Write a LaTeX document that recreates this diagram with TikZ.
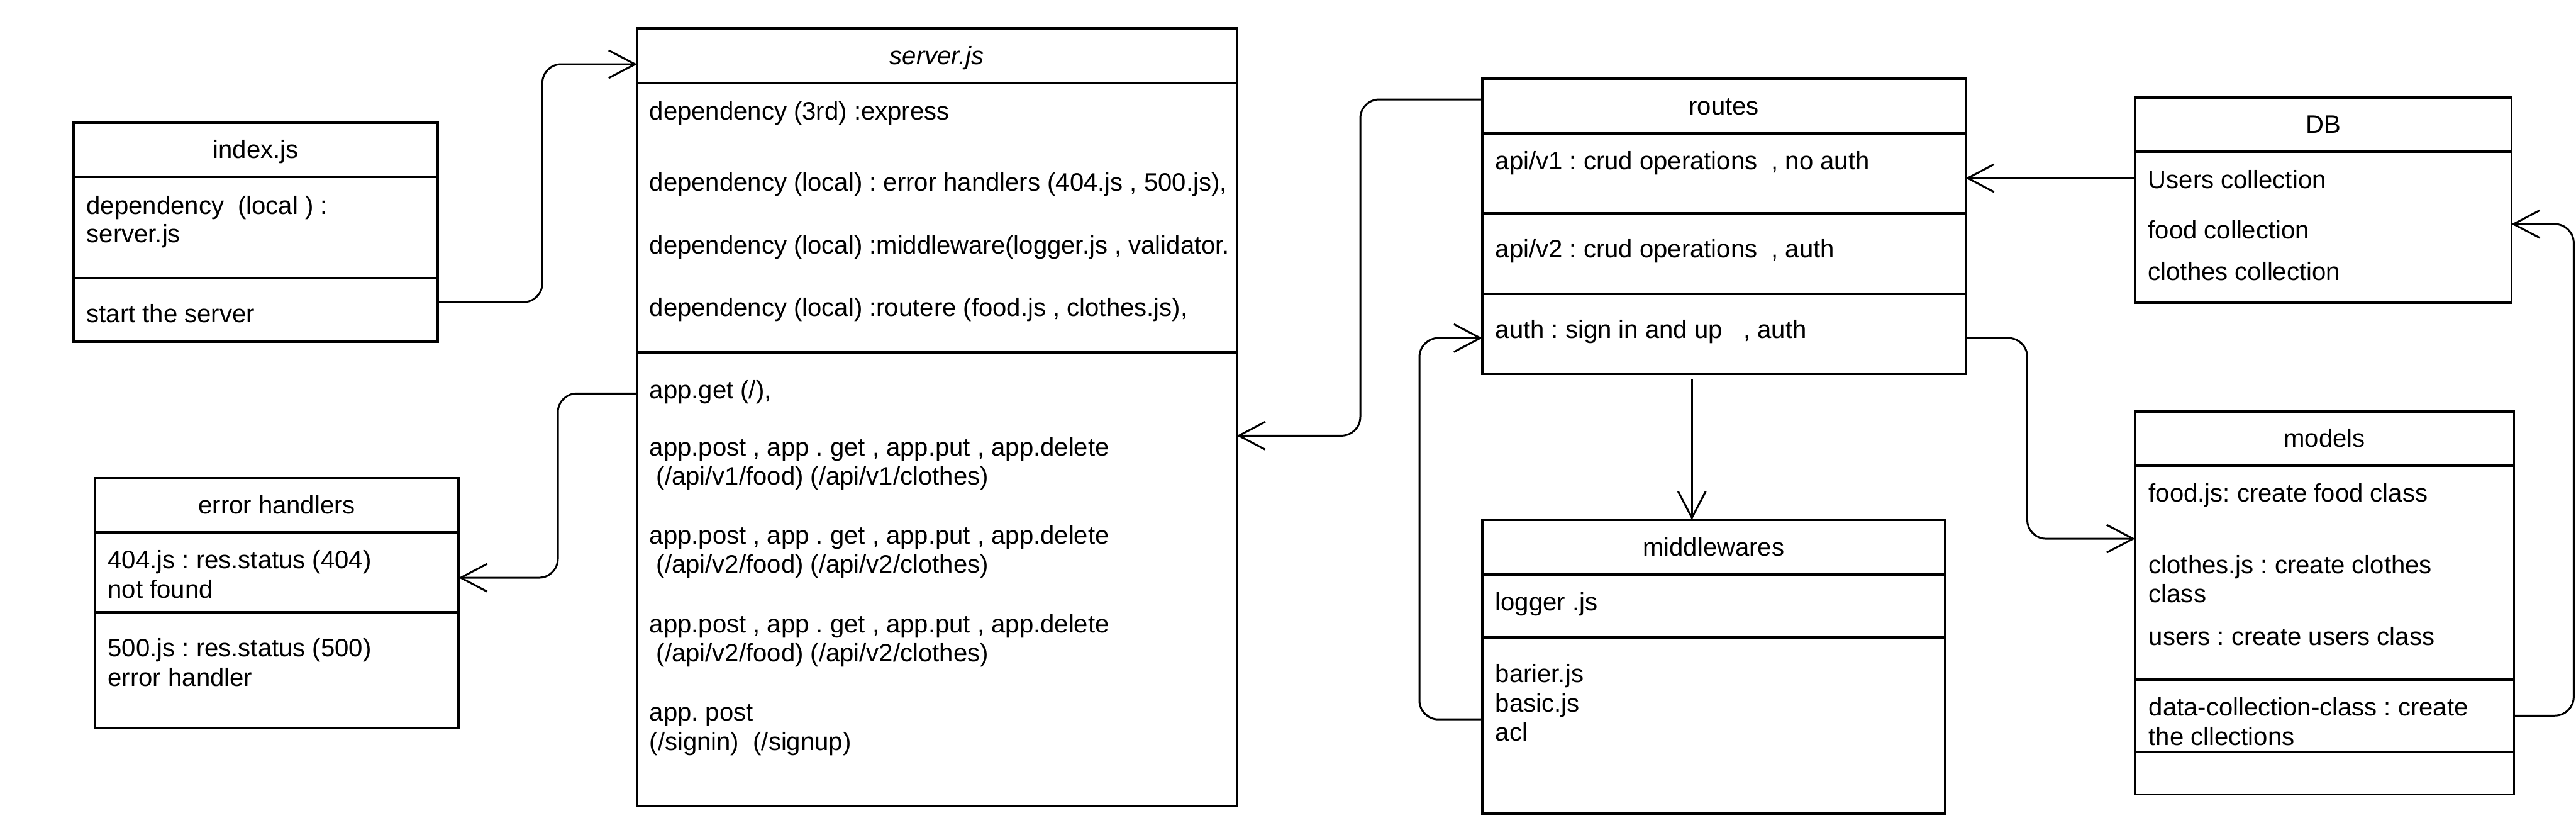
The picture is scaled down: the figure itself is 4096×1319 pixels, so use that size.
\documentclass[tikz,border=0pt]{standalone}
\usepackage{fontspec}
\setmainfont{Liberation Sans}
\usetikzlibrary{arrows.meta,positioning}
\frenchspacing
\begin{document}
\begin{tikzpicture}
  [x=0.01cm,y=-0.01cm,
   font=\fontsize{11.4pt}{13.1pt}\selectfont,
   part/.style={rectangle,draw=black,line width=1.05pt,anchor=north west,
                inner sep=0,outer sep=0},
   head/.style={part,text height=0.9em,text depth=0.12em},
   item/.style={anchor=base west,inner sep=0},
   link/.style={line width=0.85pt,rounded corners=0.3cm},
   >={Straight Barb[length=0.42cm,width=0.44cm]}]
  \useasboundingbox (0,0) rectangle (4096,1319);
  % index.js
  \node[head,minimum width=5.79cm,minimum height=0.86cm] (indexHead) at (117,195) {index.js};
  \node[part,minimum width=5.79cm,minimum height=1.61cm] (indexBody) at (indexHead.south west) {};
  \node[part,minimum width=5.79cm,minimum height=1.01cm] (indexOps) at (indexBody.south west) {};
  \node[item] (idxDep) at (137,341) {dependency\ \ (local ) :};
  \node[item] (idxSrv) at (137,386) {server.js};
  \node[item] (idxStart) at (137,513) {start the server};
  % server.js
  \node[head,minimum width=9.53cm,minimum height=0.87cm] (serverHead) at (1013,45) {\itshape server.js};
  \node[part,minimum width=9.53cm,minimum height=4.28cm] (serverBody) at (serverHead.south west) {};
  \node[part,minimum width=9.53cm,minimum height=7.20cm] (serverOps) at (serverBody.south west) {};
  \node[item] (srvDep1) at (1032,191) {dependency (3rd) :express};
  \node[item] (srvDep2) at (1032,304) {dependency (local) : error handlers (404.js , 500.js),};
  \node[item] (srvDep3) at (1032,404) {dependency (local) :middleware(logger.js , validator.};
  \node[item] (srvDep4) at (1032,503) {dependency (local) :routere (food.js , clothes.js),};
  \node[item] (srvGet) at (1032,634) {app.get (/),};
  \node[item] (srvV1) at (1032,725) {app.post , app . get , app.put , app.delete};
  \node[item] (srvV1p) at (1043,771) {(/api/v1/food) (/api/v1/clothes)};
  \node[item] (srvV2) at (1032,865) {app.post , app . get , app.put , app.delete};
  \node[item] (srvV2p) at (1043,911) {(/api/v2/food) (/api/v2/clothes)};
  \node[item] (srvV3) at (1032,1005) {app.post , app . get , app.put , app.delete};
  \node[item] (srvV3p) at (1043,1051) {(/api/v2/food) (/api/v2/clothes)};
  \node[item] (srvAuth) at (1032,1145) {app. post};
  \node[item] (srvAuthp) at (1032,1192) {(/signin)\ \ (/signup)};
  % error handlers
  \node[head,minimum width=5.78cm,minimum height=0.86cm] (errHead) at (151,760) {error handlers};
  \node[part,minimum width=5.78cm,minimum height=1.27cm] (errBody) at (errHead.south west) {};
  \node[part,minimum width=5.78cm,minimum height=1.84cm] (errOps) at (errBody.south west) {};
  \node[item] (err404) at (171,903) {404.js : res.status (404)};
  \node[item] (err404b) at (171,950) {not found};
  \node[item] (err500) at (171,1044) {500.js : res.status (500)};
  \node[item] (err500b) at (171,1090) {error handler};
  % routes
  \node[head,minimum width=7.68cm,minimum height=0.87cm] (routesHead) at (2357,125) {routes};
  \node[part,minimum width=7.68cm,minimum height=1.27cm] (routesV1) at (routesHead.south west) {};
  \node[part,minimum width=7.68cm,minimum height=1.28cm] (routesV2) at (routesV1.south west) {};
  \node[part,minimum width=7.68cm,minimum height=1.27cm] (routesAuth) at (routesV2.south west) {};
  \node[item] (rtV1) at (2377,270) {api/v1 : crud operations\ \ , no auth};
  \node[item] (rtV2) at (2377,410) {api/v2 : crud operations\ \ , auth};
  \node[item] (rtAuth) at (2377,538) {auth : sign in and up\ \ \ , auth};
  % DB
  \node[head,minimum width=5.98cm,minimum height=0.86cm] (dbHead) at (3395,155) {DB};
  \node[part,minimum width=5.98cm,minimum height=2.40cm] (dbBody) at (dbHead.south west) {};
  \node[item] (dbUsers) at (3415,300) {Users collection};
  \node[item] (dbFood) at (3415,380) {food collection};
  \node[item] (dbClothes) at (3415,446) {clothes collection};
  % middlewares
  \node[head,minimum width=7.35cm,minimum height=0.87cm] (mwHead) at (2357,826) {middlewares};
  \node[part,minimum width=7.35cm,minimum height=1.00cm] (mwBody) at (mwHead.south west) {};
  \node[part,minimum width=7.35cm,minimum height=2.80cm] (mwOps) at (mwBody.south west) {};
  \node[item] (mwLogger) at (2377,971) {logger .js};
  \node[item] (mwBarier) at (2377,1084) {barier.js};
  \node[item] (mwBasic) at (2377,1131) {basic.js};
  \node[item] (mwAcl) at (2377,1177) {acl};
  % models
  \node[head,minimum width=6.02cm,minimum height=0.86cm] (modelsHead) at (3395,654) {models};
  \node[part,minimum width=6.02cm,minimum height=3.40cm] (modelsBody) at (modelsHead.south west) {};
  \node[part,minimum width=6.02cm,minimum height=1.15cm] (modelsOps) at (modelsBody.south west) {};
  \node[part,minimum width=6.02cm,minimum height=0.67cm] (modelsEnd) at (modelsOps.south west) {};
  \node[item] (mdFood) at (3416,798) {food.js: create food class};
  \node[item] (mdClothes) at (3416,912) {clothes.js : create clothes};
  \node[item] (mdClothesb) at (3416,957) {class};
  \node[item] (mdUsers) at (3416,1025) {users : create users class};
  \node[item] (mdData) at (3416,1137) {data-collection-class : create};
  \node[item] (mdDatab) at (3416,1184) {the cllections};
  % connectors
  \draw[link,->] ([yshift=1.25mm]indexOps.east) -- ++(166,0) |- ([yshift=-1.35mm]serverHead.west);
  \draw[link,->] ([yshift=-0.65cm]serverOps.north west) -- ++(-126,0) |- ([yshift=-0.85mm]errBody.east);
  \draw[link,->] ([yshift=1.05mm]routesHead.west) -- ++(-194,0) |- ([yshift=-1.32cm]serverOps.north east);
  \draw[link,->] ([yshift=-0.42cm]dbBody.north west) -- ([yshift=-0.75mm]routesV1.east);
  \draw[link,->,shorten <=0.08cm] ([xshift=-0.51cm]routesAuth.south) -- ([xshift=-0.51cm]routesAuth.south |- mwHead.north);
  \draw[link,->] ([yshift=-0.65mm]routesAuth.east) -- ++(98,0) |- ([yshift=-1.16cm]modelsBody.north west);
  \draw[link,->] ([yshift=-1.30cm]mwOps.north west) -- ++(-100,0) |- ([yshift=-0.65mm]routesAuth.west);
  \draw[link,->] ([yshift=-0.57cm]modelsOps.north east) -- ++(95,0) |- ([yshift=-1.15cm]dbBody.north east);
\end{tikzpicture}
\end{document}
